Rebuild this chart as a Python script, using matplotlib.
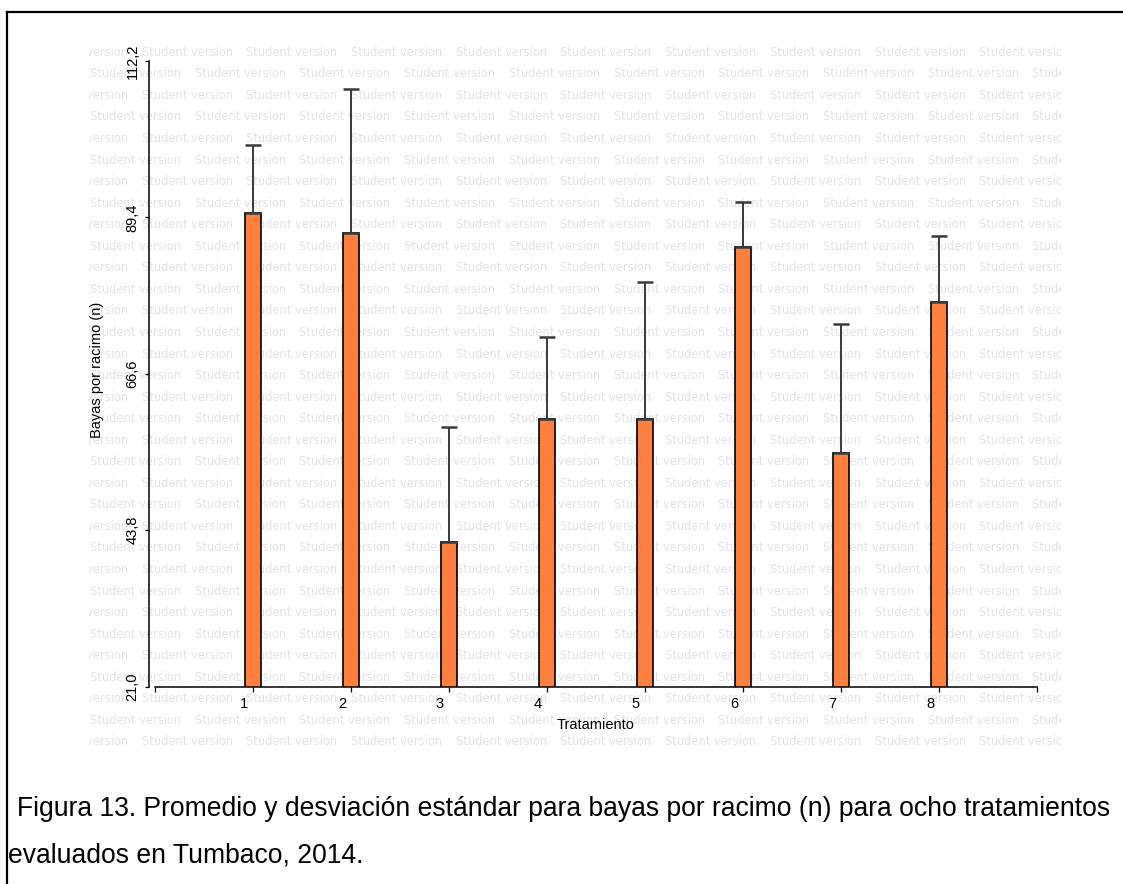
import matplotlib
matplotlib.use("Agg")
import matplotlib.pyplot as plt
from matplotlib.lines import Line2D
from matplotlib.transforms import Bbox, ScaledTranslation
import numpy as np

# ---- data ----
treatments = [1, 2, 3, 4, 5, 6, 7, 8]
means = [90.1, 87.2, 42.1, 60.0, 60.0, 85.1, 55.0, 77.1]
sd = [9.9, 20.9, 16.8, 12.0, 20.0, 6.5, 18.8, 9.6]
y_ticks = [21.0, 43.8, 66.6, 89.4, 112.2]
x_label = "Tratamiento"
y_label = "Bayas por racimo (n)"
caption_1 = "Figura 13. Promedio y desviación estándar para bayas por racimo (n) para ocho tratamientos"
caption_2 = "evaluados en Tumbaco, 2014."
watermark = "Student version"

W, H, DPI = 1123, 884, 100
fig = plt.figure(figsize=(W / DPI, H / DPI), dpi=DPI)
fig.patch.set_facecolor("white")


def fx(x):
    return x / W


def fy(y):
    return 1 - y / H


# ---- tiled watermark behind the plot ----
clip_left, clip_right = 89, 1061
clip = Bbox([[clip_left, H - 752], [clip_right, H - 40]])
row_step = 21.55
col_step = 104.7
stamp_width = 91
for k in range(33):
    yy = 52.3 + row_step * k
    xx = (37.0 if k % 2 == 0 else 90.0)
    while xx < clip_right:
        if xx + stamp_width > clip_left:
            t = fig.text(fx(xx), fy(yy), watermark, ha="left", va="center",
                         fontsize=8.3, color="#e3e3e3", family="DejaVu Sans",
                         zorder=-5)
            t.set_clip_box(clip)
            t.set_clip_on(True)
        xx += col_step

# ---- axes ----
left, right, top, bottom = 155, 1037, 61, 686.7
ax = fig.add_axes([fx(left), fy(bottom), (right - left) / W, (bottom - top) / H])
ax.set_facecolor("none")
ax.set_zorder(1)

ax.bar(treatments, means, width=0.17, color="#ff7f3f", edgecolor="black",
       linewidth=1.2, zorder=2)
ax.errorbar(treatments, means, yerr=[np.zeros(len(sd)), sd], fmt="none",
            ecolor="#3a3a3a", elinewidth=1.4, capsize=6, capthick=1.8, zorder=3)

ax.set_xlim(0, 9)
ax.set_ylim(y_ticks[0], y_ticks[-1])

for s in ("top", "right"):
    ax.spines[s].set_visible(False)
ax.spines["left"].set_position(("outward", 6 * 72 / DPI))
for s in ("left", "bottom"):
    ax.spines[s].set_linewidth(1.1)
    ax.spines[s].set_color("black")

font = "Liberation Sans"
ax.set_xticks(range(0, 10))
ax.set_xticklabels([""] + [str(t) for t in treatments] + [""],
                   fontsize=10.5, family=font)
ax.set_yticks(y_ticks)
ax.set_yticklabels([f"{v:.1f}".replace(".", ",") for v in y_ticks],
                   fontsize=10.5, family=font, rotation=90, va="center")
ax.tick_params(axis="x", direction="out", length=3.6, width=0.9, pad=4.0)
ax.tick_params(axis="y", direction="out", length=2.9, width=0.9, pad=4.0)

shift = ScaledTranslation(-9 / DPI, 0, fig.dpi_scale_trans)
for lab in ax.get_xticklabels():
    lab.set_transform(lab.get_transform() + shift)

ax.set_xlabel(x_label, fontsize=10.5, family=font, va="center")
ax.xaxis.set_label_coords(0.5, -(725 - bottom) / (bottom - top))
ax.set_ylabel(y_label, fontsize=10.5, family=font, va="center")
ax.yaxis.set_label_coords((97 - left) / (right - left), (bottom - 370) / (bottom - top))

# ---- frame lines ----
fig.add_artist(Line2D([fx(7), 1.0], [fy(12), fy(12)], color="black", linewidth=1.6))
fig.add_artist(Line2D([fx(7), fx(7)], [fy(12), 0.0], color="black", linewidth=1.6))

# ---- caption ----
cap1 = fig.text(fx(17), fy(809), caption_1, ha="left", va="center",
                fontsize=15, family=font, color="black")
cap2 = fig.text(fx(8), fy(855), caption_2, ha="left", va="center",
                fontsize=15, family=font, color="black")
renderer = fig.canvas.get_renderer()
w = cap1.get_window_extent(renderer).width
size = 15 * 1095 / w
cap1.set_fontsize(size)
cap2.set_fontsize(size)

fig.savefig("out.png", dpi=DPI)
